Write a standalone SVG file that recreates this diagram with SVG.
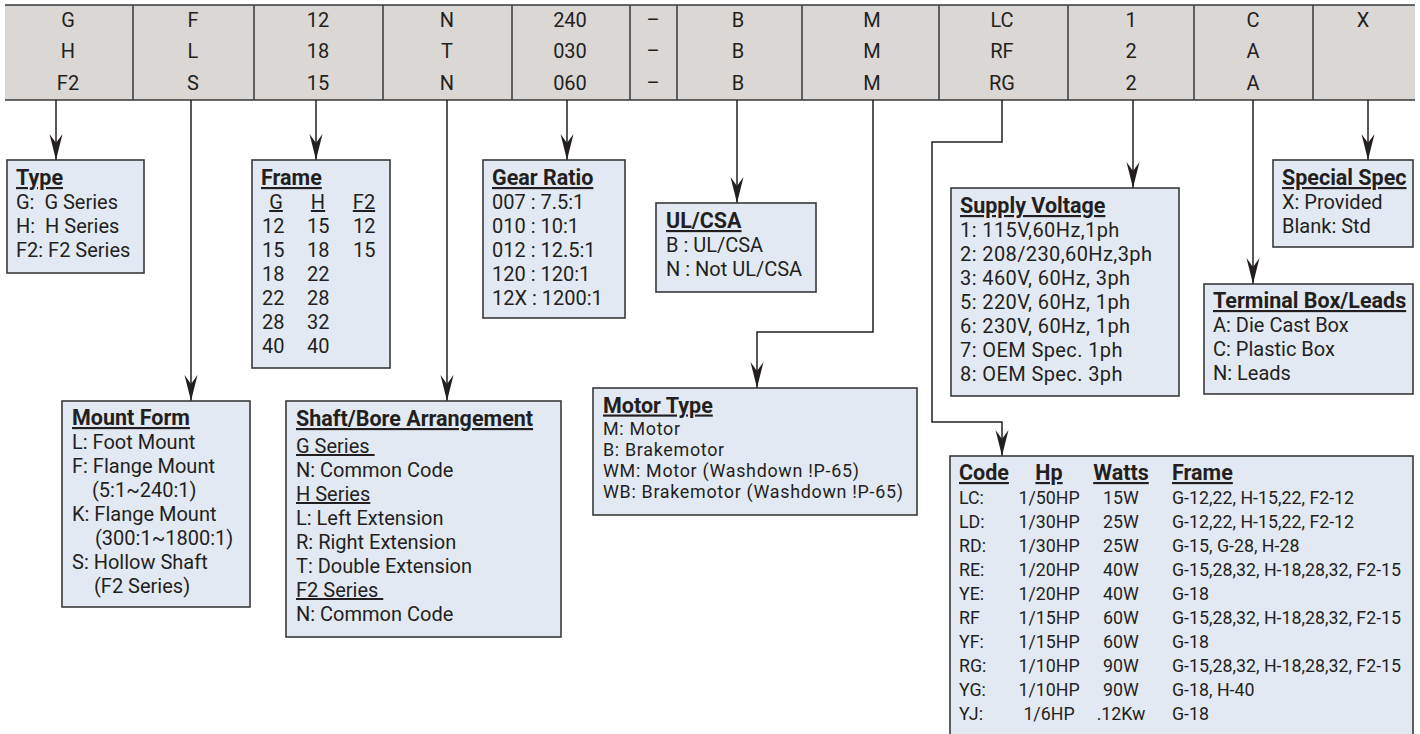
<svg xmlns="http://www.w3.org/2000/svg" width="1420" height="734" viewBox="0 0 1420 734">
<style>
text{font-family:Roboto,"Open Sans","Liberation Sans",sans-serif;fill:#231f20;}
.h{font-size:20px;text-anchor:middle;}
.hl{stroke:#3a3a3a;stroke-width:1.5;fill:none;}
.box{fill:#e3e9f3;stroke:#3a3a3a;stroke-width:1.6;}
.t{font-size:21.5px;font-weight:bold;text-decoration:underline;}
.b{font-size:20px;}
.sv{letter-spacing:0.4px;}
.m{font-size:17.9px;letter-spacing:0.7px;}
.c{font-size:17.8px;}
.u{text-decoration:underline;}
.mid{text-anchor:middle;}
.conn{stroke:#231f20;stroke-width:1.5;fill:none;marker-end:url(#ah);}
</style>
<defs>
<marker id="ah" markerUnits="userSpaceOnUse" viewBox="-27 -7 28 14" markerWidth="28" markerHeight="14" refX="0" refY="0" orient="auto" overflow="visible">
<path d="M0,0 L-26,-6.5 L-17,0 L-26,6.5 Z" fill="#231f20"/>
</marker>
</defs>
<rect width="1420" height="734" fill="#ffffff"/>
<g id="header">
<rect x="5" y="5" width="1410" height="95" fill="#dbd7d5"/>
<path class="hl" d="M5,5 H1415 M5,100 H1415 M133,5 V100 M254,5 V100 M383,5 V100 M512,5 V100 M630,5 V100 M677,5 V100 M802,5 V100 M939,5 V100 M1068,5 V100 M1194,5 V100 M1313,5 V100"/>
<g id="col-type"><text class="h" x="68" y="27">G</text><text class="h" x="68" y="58">H</text><text class="h" x="68" y="90">F2</text></g>
<g id="col-mount"><text class="h" x="193" y="27">F</text><text class="h" x="193" y="58">L</text><text class="h" x="193" y="90">S</text></g>
<g id="col-frame"><text class="h" x="318" y="27">12</text><text class="h" x="318" y="58">18</text><text class="h" x="318" y="90">15</text></g>
<g id="col-shaft"><text class="h" x="447" y="27">N</text><text class="h" x="447" y="58">T</text><text class="h" x="447" y="90">N</text></g>
<g id="col-gear"><text class="h" x="570" y="27">240</text><text class="h" x="570" y="58">030</text><text class="h" x="570" y="90">060</text></g>
<g id="col-dash"><text class="h" x="653" y="27">–</text><text class="h" x="653" y="58">–</text><text class="h" x="653" y="90">–</text></g>
<g id="col-ul"><text class="h" x="738" y="27">B</text><text class="h" x="738" y="58">B</text><text class="h" x="738" y="90">B</text></g>
<g id="col-motor"><text class="h" x="872" y="27">M</text><text class="h" x="872" y="58">M</text><text class="h" x="872" y="90">M</text></g>
<g id="col-code"><text class="h" x="1002" y="27">LC</text><text class="h" x="1002" y="58">RF</text><text class="h" x="1002" y="90">RG</text></g>
<g id="col-volt"><text class="h" x="1131" y="27">1</text><text class="h" x="1131" y="58">2</text><text class="h" x="1131" y="90">2</text></g>
<g id="col-term"><text class="h" x="1253" y="27">C</text><text class="h" x="1253" y="58">A</text><text class="h" x="1253" y="90">A</text></g>
<g id="col-spec"><text class="h" x="1363" y="27">X</text></g>
</g>
<g id="connectors">
<path class="conn" d="M56,100 V160"/>
<path class="conn" d="M191,100 V401"/>
<path class="conn" d="M316,100 V160"/>
<path class="conn" d="M447,100 V401"/>
<path class="conn" d="M567,100 V160"/>
<path class="conn" d="M737,100 V203"/>
<path class="conn" d="M873,100 V332 H757 V388"/>
<path class="conn" d="M1002,100 V142 H932 V422 H1002 V456"/>
<path class="conn" d="M1133,100 V188"/>
<path class="conn" d="M1253,100 V284"/>
<path class="conn" d="M1368,100 V160"/>
</g>
<g id="type">
<rect class="box" x="7" y="160" width="137" height="113"/>
<text class="t" x="16" y="185">Type</text>
<text class="b" x="16" y="209">G:&#160; G Series</text>
<text class="b" x="16" y="233">H:&#160; H Series</text>
<text class="b" x="16" y="257">F2: F2 Series</text>
</g>
<g id="frame">
<rect class="box" x="252" y="160" width="138" height="208"/>
<text class="t" x="261" y="185">Frame</text>
<text class="b u mid" x="276" y="209">G</text><text class="b u mid" x="318" y="209">H</text><text class="b u mid" x="364" y="209">F2</text>
<text class="b" x="262" y="233">12</text><text class="b" x="307" y="233">15</text><text class="b" x="353" y="233">12</text>
<text class="b" x="262" y="257">15</text><text class="b" x="307" y="257">18</text><text class="b" x="353" y="257">15</text>
<text class="b" x="262" y="281">18</text><text class="b" x="307" y="281">22</text>
<text class="b" x="262" y="305">22</text><text class="b" x="307" y="305">28</text>
<text class="b" x="262" y="329">28</text><text class="b" x="307" y="329">32</text>
<text class="b" x="262" y="353">40</text><text class="b" x="307" y="353">40</text>
</g>
<g id="gear">
<rect class="box" x="483" y="160" width="142" height="158"/>
<text class="t" x="492" y="185">Gear Ratio</text>
<text class="b" x="492" y="209">007 : 7.5:1</text>
<text class="b" x="492" y="233">010 : 10:1</text>
<text class="b" x="492" y="257">012 : 12.5:1</text>
<text class="b" x="492" y="281">120 : 120:1</text>
<text class="b" x="492" y="305">12X : 1200:1</text>
</g>
<g id="ulcsa">
<rect class="box" x="656" y="203" width="160" height="89"/>
<text class="t" x="666" y="228">UL/CSA</text>
<text class="b" x="666" y="252">B : UL/CSA</text>
<text class="b" x="666" y="276">N : Not UL/CSA</text>
</g>
<g id="special">
<rect class="box" x="1273" y="160" width="140" height="87"/>
<text class="t" x="1282" y="185">Special Spec</text>
<text class="b" x="1282" y="209">X: Provided</text>
<text class="b" x="1282" y="233">Blank: Std</text>
</g>
<g id="supply">
<rect class="box" x="951" y="188" width="228" height="208"/>
<text class="t" x="960" y="213">Supply Voltage</text>
<text class="b sv" x="960" y="237">1: 115V,60Hz,1ph</text>
<text class="b sv" x="960" y="261">2: 208/230,60Hz,3ph</text>
<text class="b sv" x="960" y="285">3: 460V, 60Hz, 3ph</text>
<text class="b sv" x="960" y="309">5: 220V, 60Hz, 1ph</text>
<text class="b sv" x="960" y="333">6: 230V, 60Hz, 1ph</text>
<text class="b sv" x="960" y="357">7: OEM Spec. 1ph</text>
<text class="b sv" x="960" y="381">8: OEM Spec. 3ph</text>
</g>
<g id="terminal">
<rect class="box" x="1204" y="284" width="209" height="110"/>
<text class="t" x="1213" y="308">Terminal Box/Leads</text>
<text class="b" x="1213" y="332">A: Die Cast Box</text>
<text class="b" x="1213" y="356">C: Plastic Box</text>
<text class="b" x="1213" y="380">N: Leads</text>
</g>
<g id="mount">
<rect class="box" x="62" y="401" width="188" height="206"/>
<text class="t" x="72" y="425">Mount Form</text>
<text class="b" x="72" y="449">L: Foot Mount</text>
<text class="b" x="72" y="473">F: Flange Mount</text>
<text class="b" x="92" y="497">(5:1~240:1)</text>
<text class="b" x="72" y="521">K: Flange Mount</text>
<text class="b" x="95" y="545">(300:1~1800:1)</text>
<text class="b" x="72" y="569">S: Hollow Shaft</text>
<text class="b" x="94" y="593">(F2 Series)</text>
</g>
<g id="shaft">
<rect class="box" x="286" y="401" width="275" height="236"/>
<text class="t" x="296" y="426">Shaft/Bore Arrangement</text>
<text class="b u" x="296" y="453">G Series&#160;</text>
<text class="b" x="296" y="477">N: Common Code</text>
<text class="b u" x="296" y="501">H Series</text>
<text class="b" x="296" y="525">L: Left Extension</text>
<text class="b" x="296" y="549">R: Right Extension</text>
<text class="b" x="296" y="573">T: Double Extension</text>
<text class="b u" x="296" y="597">F2 Series&#160;</text>
<text class="b" x="296" y="621">N: Common Code</text>
</g>
<g id="motor">
<rect class="box" x="593" y="388" width="324" height="127"/>
<text class="t" x="603" y="412.5">Motor Type</text>
<text class="m" x="603" y="434.5">M: Motor</text>
<text class="m" x="603" y="455.5">B: Brakemotor</text>
<text class="m" x="603" y="476.5">WM: Motor (Washdown !P-65)</text>
<text class="m" x="603" y="497.5">WB: Brakemotor (Washdown !P-65)</text>
</g>
<g id="code">
<rect class="box" x="950" y="456" width="463" height="282"/>
<text class="t" x="959" y="480">Code</text>
<text class="t mid" x="1049" y="480">Hp</text>
<text class="t mid" x="1121" y="480">Watts</text>
<text class="t" x="1172" y="480">Frame</text>
<text class="c" x="959" y="504">LC:</text><text class="c mid" x="1049" y="504">1/50HP</text><text class="c mid" x="1121" y="504">15W</text><text class="c" x="1172" y="504">G-12,22, H-15,22, F2-12</text>
<text class="c" x="959" y="528">LD:</text><text class="c mid" x="1049" y="528">1/30HP</text><text class="c mid" x="1121" y="528">25W</text><text class="c" x="1172" y="528">G-12,22, H-15,22, F2-12</text>
<text class="c" x="959" y="552">RD:</text><text class="c mid" x="1049" y="552">1/30HP</text><text class="c mid" x="1121" y="552">25W</text><text class="c" x="1172" y="552">G-15, G-28, H-28</text>
<text class="c" x="959" y="576">RE:</text><text class="c mid" x="1049" y="576">1/20HP</text><text class="c mid" x="1121" y="576">40W</text><text class="c" x="1172" y="576">G-15,28,32, H-18,28,32, F2-15</text>
<text class="c" x="959" y="600">YE:</text><text class="c mid" x="1049" y="600">1/20HP</text><text class="c mid" x="1121" y="600">40W</text><text class="c" x="1172" y="600">G-18</text>
<text class="c" x="959" y="624">RF</text><text class="c mid" x="1049" y="624">1/15HP</text><text class="c mid" x="1121" y="624">60W</text><text class="c" x="1172" y="624">G-15,28,32, H-18,28,32, F2-15</text>
<text class="c" x="959" y="648">YF:</text><text class="c mid" x="1049" y="648">1/15HP</text><text class="c mid" x="1121" y="648">60W</text><text class="c" x="1172" y="648">G-18</text>
<text class="c" x="959" y="672">RG:</text><text class="c mid" x="1049" y="672">1/10HP</text><text class="c mid" x="1121" y="672">90W</text><text class="c" x="1172" y="672">G-15,28,32, H-18,28,32, F2-15</text>
<text class="c" x="959" y="696">YG:</text><text class="c mid" x="1049" y="696">1/10HP</text><text class="c mid" x="1121" y="696">90W</text><text class="c" x="1172" y="696">G-18, H-40</text>
<text class="c" x="959" y="720">YJ:</text><text class="c mid" x="1049" y="720">1/6HP</text><text class="c mid" x="1121" y="720">.12Kw</text><text class="c" x="1172" y="720">G-18</text>
</g>
</svg>
